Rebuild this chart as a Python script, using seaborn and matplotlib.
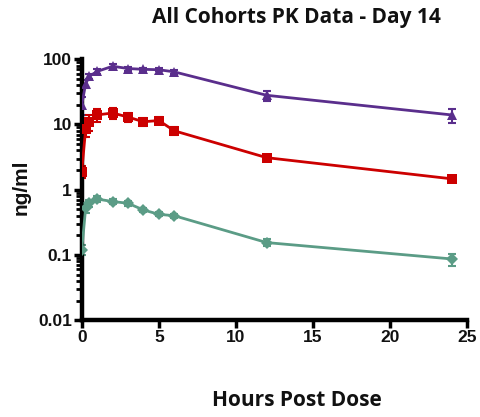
import numpy as np
import pandas as pd
import matplotlib
matplotlib.use("Agg")
import matplotlib.pyplot as plt
import seaborn as sns
from matplotlib.ticker import FixedLocator, LogLocator, NullFormatter

# Data
hours = [0, 0.25, 0.5, 1, 2, 3, 4, 5, 6, 12, 24]
high_dose = [20, 42, 55, 65, 78, 72, 70, 69, 64, 28, 14]
high_err = [6, 6, 5, 5, 6, 5, 4, 4, 4, 5, 3.5]
mid_dose = [1.9, 8.5, 11, 14, 15, 13, 11, 11.5, 8, 3.1, 1.47]
mid_err = [0.4, 2, 3, 3, 3, 2, 1.5, 1.5, 1, 0.3, 0.1]
low_dose = [0.12, 0.52, 0.62, 0.72, 0.66, 0.62, 0.49, 0.42, 0.40, 0.155, 0.087]
low_err = [0.02, 0.08, 0.08, 0.07, 0.06, 0.05, 0.04, 0.03, 0.03, 0.02, 0.018]

cohorts = ["High", "Mid", "Low"]
colors = {"High": "#5a2e8c", "Mid": "#cc0000", "Low": "#5b9c86"}
markers = {"High": "^", "Mid": "s", "Low": "D"}

df = pd.DataFrame({
    "hours": hours * 3,
    "conc": high_dose + mid_dose + low_dose,
    "err": high_err + mid_err + low_err,
    "cohort": ["High"] * len(hours) + ["Mid"] * len(hours) + ["Low"] * len(hours),
})

sns.set_style("ticks")
plt.rcParams["font.family"] = ["Liberation Sans", "DejaVu Sans"]

fig = plt.figure(figsize=(4.81, 4.17), dpi=100)
ax = fig.add_axes([0.17, 0.232, 0.801, 0.626])

for c in cohorts:
    sub = df[df["cohort"] == c]
    ax.errorbar(sub["hours"], sub["conc"], yerr=sub["err"], fmt="none",
                ecolor=colors[c], elinewidth=1.5, capsize=3, capthick=1.5, zorder=2)

sns.lineplot(data=df, x="hours", y="conc", hue="cohort", style="cohort",
             palette=colors, markers=markers, dashes=False, hue_order=cohorts,
             markersize=6.5, linewidth=2, markeredgewidth=0, legend=False, ax=ax,
             zorder=3)

ax.set_yscale("log")
ax.set_xlim(0, 25)
ax.set_ylim(0.01, 100)
ax.xaxis.set_major_locator(FixedLocator([0, 5, 10, 15, 20, 25]))
ax.yaxis.set_major_locator(FixedLocator([0.01, 0.1, 1, 10, 100]))
ax.yaxis.set_minor_locator(LogLocator(base=10, subs=np.arange(2, 10)))
ax.yaxis.set_minor_formatter(NullFormatter())
ax.set_yticklabels(["0.01", "0.1", "1", "10", "100"])
ax.set_xlabel("")
ax.set_ylabel("")

sns.despine(ax=ax)
for s in ["left", "bottom"]:
    ax.spines[s].set_linewidth(3.2)
    ax.spines[s].set_color("black")
ax.tick_params(axis="both", which="major", width=2.5, length=6, labelsize=12.5,
               pad=1, color="black", labelcolor="#111111")
ax.tick_params(axis="y", which="minor", width=2, length=4, color="black")
for lbl in ax.get_xticklabels() + ax.get_yticklabels():
    lbl.set_fontweight("bold")

fig.text(0.617, 0.04, "Hours Post Dose", ha="center", va="center", fontsize=15,
         fontweight="bold", family=["Open Sans", "DejaVu Sans"], color="#111111")
fig.text(0.044, 0.552, "ng/ml", ha="center", va="center", rotation=90, fontsize=15,
         fontweight="bold", color="#111111")
fig.text(0.617, 0.957, "All Cohorts PK Data - Day 14", ha="center", va="center",
         fontsize=15, fontweight="bold", family=["Open Sans", "DejaVu Sans"],
         color="#111111")

fig.savefig("out.png", dpi=100)
